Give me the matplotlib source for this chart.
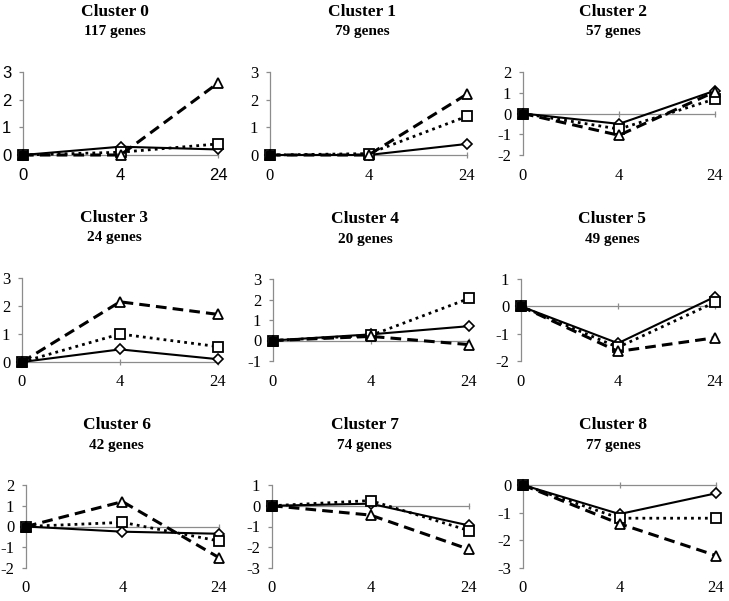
import matplotlib
matplotlib.use("Agg")
import matplotlib.pyplot as plt

plt.rcParams['axes.unicode_minus'] = False

times = ["0", "4", "24"]
clusters = ["Cluster 0", "Cluster 1", "Cluster 2", "Cluster 3", "Cluster 4",
            "Cluster 5", "Cluster 6", "Cluster 7", "Cluster 8"]
gene_counts = [117, 79, 57, 24, 20, 49, 42, 74, 77]

# solid line, diamond markers
series_diamond = [
    [0, 0.30, 0.20], [0, 0.00, 0.40], [0, -0.50, 1.10],
    [0, 0.45, 0.10], [0, 0.30, 0.70], [0, -1.35, 0.35],
    [0, -0.25, -0.35], [0, 0.10, -0.95], [0, -1.05, -0.30],
]
# dotted line, square markers
series_square = [
    [0, 0.10, 0.40], [0, 0.05, 1.40], [0, -0.75, 0.70],
    [0, 1.00, 0.55], [0, 0.25, 2.05], [0, -1.50, 0.15],
    [0, 0.20, -0.70], [0, 0.25, -1.20], [0, -1.20, -1.20],
]
# dashed line, triangle markers
series_triangle = [
    [0, 0.00, 2.60], [0, 0.00, 2.20], [0, -1.05, 1.05],
    [0, 2.15, 1.70], [0, 0.20, -0.20], [0, -1.65, -1.15],
    [0, 1.20, -1.50], [0, -0.45, -2.10], [0, -1.40, -2.55],
]
y_limits = [(0, 3), (0, 3), (-2, 2), (0, 3), (-1, 3), (-2, 1),
            (-2, 2), (-3, 1), (-3, 0)]

W, H = 729, 601
# plot areas in pixels: left, top, right, bottom
boxes = [(23, 72, 218, 155), (270, 72, 467, 155), (523, 72, 715, 155),
         (22, 278, 218, 362), (273, 279, 469, 361), (521, 279, 715, 361),
         (26, 485, 219, 568), (272, 485, 469, 568), (523, 485, 716, 568)]

fig = plt.figure(figsize=(W / 100, H / 100), dpi=100)
grey = "#8c8c8c"
serif = "Liberation Serif"

for i in range(9):
    l, t, r, b = boxes[i]
    ax = fig.add_axes([l / W, 1 - b / H, (r - l) / W, (b - t) / H])
    x = list(range(len(times)))
    tick_font = "Liberation Sans" if i == 0 else serif

    ax.plot(x, series_diamond[i], '-', color='black', lw=1.5, marker='D', ms=5,
            mfc='white', mec='black', mew=1.2, clip_on=False, zorder=3)
    ax.plot(x, series_square[i], ':', color='black', lw=2.0, marker='s', ms=7,
            mfc='white', mec='black', mew=1.3, clip_on=False, zorder=4,
            dashes=(1, 1.5))
    ax.plot(x, series_triangle[i], '--', color='black', lw=2.2, marker='^', ms=7.5,
            mfc='white', mec='black', mew=1.3, clip_on=False, zorder=5,
            dashes=(3.5, 2))
    # overlapping start point looks like a filled square
    ax.plot(x[:1], series_square[i][:1], 's', color='black', ms=6,
            clip_on=False, zorder=6)

    ax.set_xlim(0, 2)
    ax.set_ylim(*y_limits[i])
    lo, hi = y_limits[i]
    ax.set_yticks(range(lo, hi + 1))

    for s in ["top", "right"]:
        ax.spines[s].set_visible(False)
    ax.spines["left"].set_color(grey)
    ax.spines["left"].set_linewidth(0.9)
    ax.spines["bottom"].set_position(("data", 0))
    ax.spines["bottom"].set_color(grey)
    ax.spines["bottom"].set_linewidth(0.9)

    ax.set_xticks([1, 2])
    ax.tick_params(axis='x', direction='inout', length=5, width=0.9,
                   color=grey, labelbottom=False)
    ax.tick_params(axis='y', direction='out', length=3, width=0.9,
                   color=grey, pad=5.5)
    for lab in ax.get_yticklabels():
        lab.set_fontfamily(tick_font)
        lab.set_fontsize(12)

    sec = ax.secondary_xaxis('bottom')
    sec.set_xticks(x)
    sec.set_xticklabels(times, fontfamily=tick_font, fontsize=12)
    sec.tick_params(length=0, pad=9)
    sec.spines["bottom"].set_visible(False)

    cx = ((l + r) / 2 - 6) / W
    fig.text(cx, 1 - (t - 60) / H, clusters[i], ha='center', va='center',
             fontfamily=serif, fontweight='bold', fontsize=12.5)
    fig.text(cx, 1 - (t - 40) / H, str(gene_counts[i]) + " genes",
             ha='center', va='center', fontfamily=serif, fontweight='bold',
             fontsize=11)

fig.savefig("out.png", dpi=100)
